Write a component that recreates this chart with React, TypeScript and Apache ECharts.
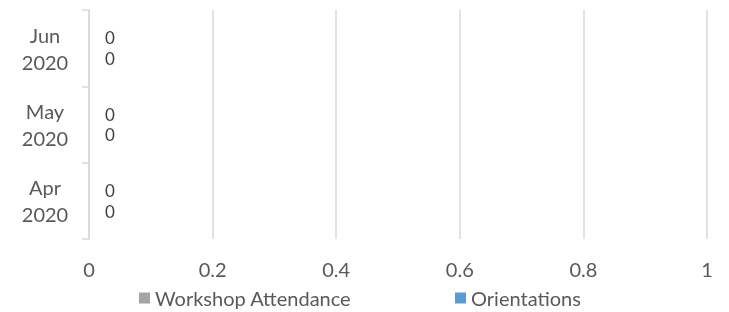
import React, { useEffect, useRef } from "react";
import * as echarts from "echarts";

const categories = ["Apr\n2020", "May\n2020", "Jun\n2020"];
const workshopAttendance = [0, 0, 0];
const orientations = [0, 0, 0];
const xTicks = { min: 0, max: 1, interval: 0.2 };

const FONT = "Lato, 'Open Sans', sans-serif";
const TXT = "#595959";
const FS = 20;

export default function App() {
  const ref = useRef<HTMLDivElement>(null);
  useEffect(() => {
    if (!ref.current) return;
    const chart = echarts.init(ref.current, null, { renderer: "svg" });
    const label = {
      show: true,
      position: "right",
      distance: 16,
      color: "#404040",
      fontSize: 17,
      lineHeight: 17,
      fontFamily: FONT,
    };
    const legendText = { color: TXT, fontSize: FS, fontFamily: FONT, padding: [0, 0, 0, 0] };
    chart.setOption({
      animation: false,
      textStyle: { fontFamily: FONT },
      grid: { left: 89, right: 22, top: 10, bottom: 73, containLabel: false },
      legend: [
        {
          data: ["Workshop Attendance"],
          left: 139,
          top: 288,
          padding: 0,
          itemWidth: 11,
          itemHeight: 11,
          icon: "rect",
          textStyle: legendText,
        },
        {
          data: ["Orientations"],
          left: 455,
          top: 288,
          padding: 0,
          itemWidth: 11,
          itemHeight: 11,
          icon: "rect",
          textStyle: legendText,
        },
      ],
      xAxis: {
        type: "value",
        min: xTicks.min,
        max: xTicks.max,
        interval: xTicks.interval,
        axisLine: { show: false },
        axisTick: { show: false },
        splitLine: { lineStyle: { color: "#d9d9d9", width: 1.5 } },
        axisLabel: { color: TXT, fontSize: FS, fontFamily: FONT, margin: 20 },
      },
      yAxis: {
        type: "category",
        data: categories,
        axisLine: { lineStyle: { color: "#d9d9d9", width: 1.5 } },
        axisTick: { show: true, length: 7, lineStyle: { color: "#d9d9d9", width: 1.5 } },
        axisLabel: {
          color: TXT,
          fontSize: FS,
          fontFamily: FONT,
          lineHeight: 27,
          align: "center",
          margin: 44,
        },
      },
      series: [
        {
          name: "Workshop Attendance",
          type: "bar",
          data: workshopAttendance,
          barWidth: 19,
          barGap: "10%",
          itemStyle: { color: "#a5a5a5" },
          label,
        },
        {
          name: "Orientations",
          type: "bar",
          data: orientations,
          barWidth: 19,
          barGap: "10%",
          itemStyle: { color: "#5b9bd5" },
          label,
        },
      ],
    });
    return () => chart.dispose();
  }, []);
  return (
    <div
      ref={ref}
      style={{ position: "fixed", left: 0, top: 0, width: 729, height: 312 }}
    />
  );
}
